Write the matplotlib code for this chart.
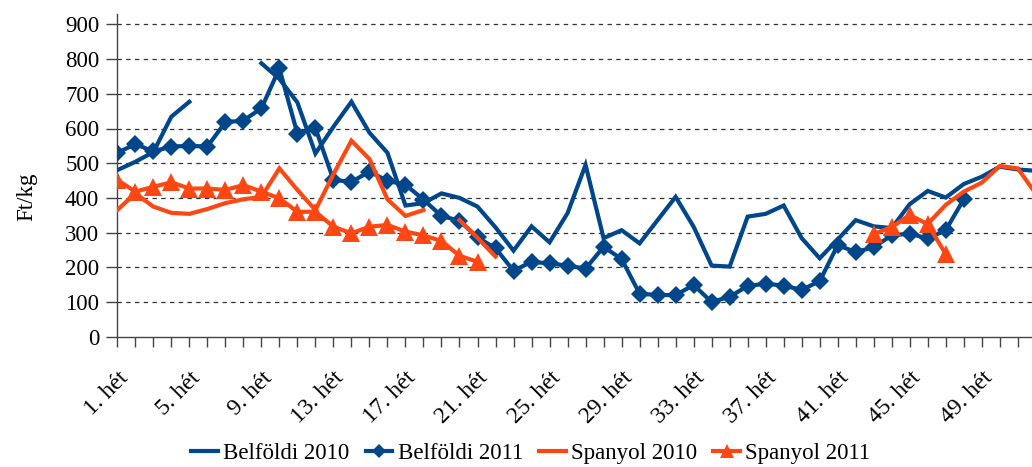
import numpy as np
import matplotlib
matplotlib.use("Agg")
import matplotlib.pyplot as plt

nan = np.nan
weeks = list(range(1, 53))
week_labels = [f"{w}. hét" for w in weeks]

belfoldi_2010 = [480, 504, 532, 634, 677, nan, nan, nan, 788, 743,
                 675, 528, 605, 677, 588, 530, 378, 385, 413, 400,
                 375, 315, 248, 318, 272, 356, 495, 284, 307, 269,
                 336, 403, 317, 205, 202, 346, 354, 378, 284, 226,
                 280, 336, 318, 313, 382, 420, 401, 440, 461, 490,
                 482, 478]
belfoldi_2011 = [530, 555, 534, 548, 550, 548, 618, 623, 658, 773,
                 585, 601, 452, 446, 476, 449, 438, 395, 348, 334,
                 286, 255, 190, 216, 211, 205, 196, 259, 224, 124,
                 120, 120, 149, 100, 115, 146, 153, 147, 135, 160,
                 264, 244, 258, 292, 297, 283, 307, 396, nan, nan,
                 nan, nan]
spanyol_2010 = [365, 413, 375, 357, 354, 368, 385, 396, 403, 485,
                423, 365, 468, 565, 512, 396, 348, 365, nan, 336,
                285, 231, nan, nan, nan, nan, nan, nan, nan, nan,
                nan, nan, nan, nan, nan, nan, nan, nan, nan, nan,
                nan, nan, nan, nan, nan, 325, 380, 418, 444, 492,
                485, 412]
spanyol_2011 = [452, 418, 432, 445, 427, 427, 423, 437, 418, 399,
                360, 360, 317, 298, 317, 322, 303, 292, 276, 233,
                216, nan, nan, nan, nan, nan, nan, nan, nan, nan,
                nan, nan, nan, nan, nan, nan, nan, nan, nan, nan,
                nan, nan, 296, 316, 351, 324, 238, nan, nan, nan,
                nan, nan]

series_names = ["Belföldi 2010", "Belföldi 2011", "Spanyol 2010", "Spanyol 2011"]
y_ticks = list(range(0, 1000, 100))

BLUE = "#00468A"
ORANGE = "#FF4713"

plt.rcParams['font.family'] = ['Liberation Serif', 'DejaVu Serif']

W, H = 1032, 467
fig = plt.figure(figsize=(W / 100, H / 100), dpi=100)
x0, x1 = 117.3, 117.3 + 18.01 * 51
y0 = 336.7
ytop = 930
ypix = ytop * 0.347
ax = fig.add_axes([x0 / W, (H - y0) / H, (x1 - x0) / W, ypix / H])

ax.plot(weeks, belfoldi_2010, color=BLUE, lw=3.0, label=series_names[0],
        solid_joinstyle='miter', zorder=3)
ax.plot(weeks, belfoldi_2011, color=BLUE, lw=3.0, marker='D', ms=9.0,
        mew=0, label=series_names[1], zorder=4)
ax.plot(weeks, spanyol_2010, color=ORANGE, lw=3.0, label=series_names[2],
        solid_joinstyle='miter', zorder=5)
ax.plot(weeks, spanyol_2011, color=ORANGE, lw=3.0, marker='^', ms=12.5,
        mew=0, label=series_names[3], zorder=6)

ax.set_xlim(1, 52)
ax.set_ylim(0, ytop)
ax.set_yticks(y_ticks)
ax.set_yticklabels([str(v) for v in y_ticks], fontsize=16.5)
ax.set_xticks(weeks)
ax.set_xticklabels([lab if (w - 1) % 4 == 0 else "" for w, lab in zip(weeks, week_labels)],
                   fontsize=17, rotation=45, ha='right', va='top',
                   rotation_mode='anchor')

for v in y_ticks[1:]:
    ax.axhline(v, color='#333333', lw=0.9, ls=(0, (3.5, 3.5)), zorder=1)

for s in ['top', 'right']:
    ax.spines[s].set_visible(False)
for s in ['left', 'bottom']:
    ax.spines[s].set_color('#444444')
    ax.spines[s].set_linewidth(1.0)
ax.tick_params(axis='y', direction='out', length=8, width=1.0, color='#444444', pad=5)
ax.tick_params(axis='x', direction='out', length=7, width=1.0, color='#444444', pad=15)

fig.text(27 / W, 1 - 197 / H, "Ft/kg", rotation=90, ha='center', va='center', fontsize=16.5)

handles, labels = ax.get_legend_handles_labels()
leg = fig.legend(handles, labels, loc='center', bbox_to_anchor=(531 / W, 1 - 453 / H),
                 ncol=4, frameon=False, fontsize=16.5, handlelength=1.15,
                 handletextpad=0.25, columnspacing=0.7, markerscale=0.75)

fig.savefig("out.png", dpi=100)
